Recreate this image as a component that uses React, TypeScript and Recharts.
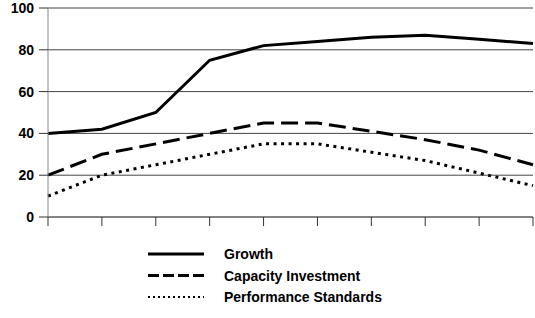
import React from "react";
import { LineChart, Line, XAxis, YAxis, CartesianGrid } from "recharts";

const categories = ["1", "2", "3", "4", "5", "6", "7", "8", "9", "10"];
const growth = [40, 42, 50, 75, 82, 84, 86, 87, 85, 83];
const capacity = [20, 30, 35, 40, 45, 45, 41, 37, 32, 25];
const performance = [10, 20, 25, 30, 35, 35, 31, 27, 21, 15];
const yTicks = [0, 20, 40, 60, 80, 100];
const seriesNames = ["Growth", "Capacity Investment", "Performance Standards"];

const data = categories.map((c, i) => ({
  cat: c,
  growth: growth[i],
  capacity: capacity[i],
  performance: performance[i],
}));

const FONT = "'Liberation Sans', Arial, sans-serif";

const legendDash = ["", "11 4", "2 3"];
const legendWidth = [3, 3, 2];

export default function App() {
  return (
    <div style={{ position: "absolute", left: 0, top: 0, width: 535, height: 318, background: "#fff" }}>
      <LineChart
        width={535}
        height={318}
        data={data}
        margin={{ top: 8, right: 2, left: 0, bottom: 71 }}
      >
        <CartesianGrid vertical={false} stroke="#444" strokeWidth={1} />
        <XAxis
          dataKey="cat"
          tickFormatter={() => ""}
          tickSize={9}
          axisLine={{ stroke: "#666" }}
          tickLine={{ stroke: "#333" }}
          height={30}
        />
        <YAxis
          domain={[0, 100]}
          ticks={yTicks}
          width={48}
          tickSize={9}
          tickMargin={5}
          axisLine={{ stroke: "#888" }}
          tickLine={{ stroke: "#333" }}
          tick={{ fill: "#000", fontFamily: FONT, fontWeight: "bold", fontSize: 14 }}
        />
        <Line dataKey="growth" stroke="#000" strokeWidth={3} dot={false} isAnimationActive={false} />
        <Line dataKey="capacity" stroke="#000" strokeWidth={3} strokeDasharray="17 7" dot={false} isAnimationActive={false} />
        <Line dataKey="performance" stroke="#000" strokeWidth={3} strokeDasharray="3 4.5" dot={false} isAnimationActive={false} />
      </LineChart>
      <svg width={535} height={90} style={{ position: "absolute", left: 0, top: 232 }}>
        {seriesNames.map((name, i) => (
          <g key={name}>
            <line
              x1={148}
              x2={204}
              y1={22 + i * 21.5}
              y2={22 + i * 21.5}
              stroke="#000"
              strokeWidth={legendWidth[i]}
              strokeDasharray={legendDash[i] || undefined}
            />
            <text
              x={224}
              y={22 + i * 21.5}
              dy="0.36em"
              fontFamily={FONT}
              fontWeight="bold"
              fontSize={14}
              fill="#000"
            >
              {name}
            </text>
          </g>
        ))}
      </svg>
    </div>
  );
}
